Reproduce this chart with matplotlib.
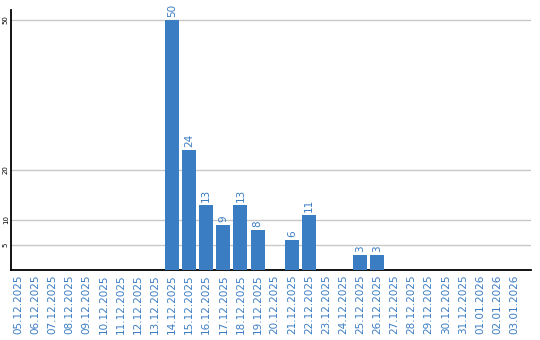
import matplotlib
matplotlib.use("Agg")
import matplotlib.pyplot as plt

dates = ["05.12.2025", "06.12.2025", "07.12.2025", "08.12.2025", "09.12.2025",
         "10.12.2025", "11.12.2025", "12.12.2025", "13.12.2025", "14.12.2025",
         "15.12.2025", "16.12.2025", "17.12.2025", "18.12.2025", "19.12.2025",
         "20.12.2025", "21.12.2025", "22.12.2025", "23.12.2025", "24.12.2025",
         "25.12.2025", "26.12.2025", "27.12.2025", "28.12.2025", "29.12.2025",
         "30.12.2025", "31.12.2025", "01.01.2026", "02.01.2026", "03.01.2026"]
counts = [0, 0, 0, 0, 0, 0, 0, 0, 0, 50,
          24, 13, 9, 13, 8, 0, 6, 11, 0, 0,
          3, 3, 0, 0, 0, 0, 0, 0, 0, 0]
yticks = [5, 10, 20, 50]

blue = "#3b7dc3"

fig = plt.figure(figsize=(5.4, 3.4), dpi=100)
ax = fig.add_axes([11 / 540, 70 / 340, 520 / 540, 260 / 340])

x = list(range(len(dates)))
ax.bar(x, counts, width=0.82, color=blue, zorder=3)
for i, v in enumerate(counts):
    if v > 0:
        ax.text(i, v + 0.6, str(v), rotation=90, ha="center", va="bottom",
                color=blue, fontsize=7.5, zorder=4)

ax.set_xlim(-0.41, len(dates) - 0.02)
ax.set_ylim(0, 52)
ax.set_yticks(yticks)
ax.set_yticklabels([str(t) for t in yticks], rotation=90, va="center", fontsize=5)
ax.set_xticks(x)
ax.set_xticklabels(dates, rotation=90, fontsize=7.5, color=blue)
ax.tick_params(axis="both", length=0)
ax.tick_params(axis="y", pad=1.5)
ax.tick_params(axis="x", pad=3)
ax.grid(axis="y", color="#c8c8c8", linewidth=1, zorder=0)
ax.spines["top"].set_visible(False)
ax.spines["right"].set_visible(False)
ax.spines["left"].set_linewidth(1.3)
ax.spines["bottom"].set_linewidth(1.3)

fig.savefig("out.png", dpi=100)
